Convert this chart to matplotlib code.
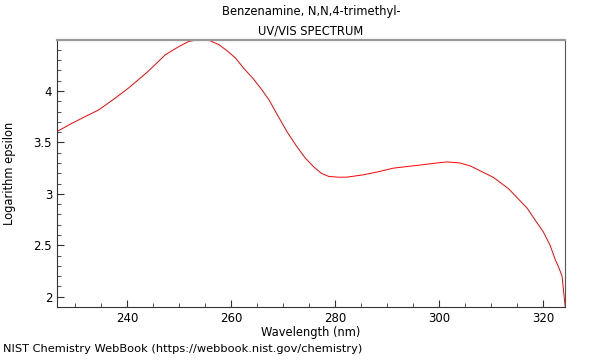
import matplotlib
matplotlib.use("Agg")
import matplotlib.pyplot as plt
from matplotlib.ticker import MultipleLocator

# wavelength (nm) and log epsilon
wavelength = [226.5, 228.8, 231.3, 234.5, 237.7, 240.3, 243.8, 247.3, 249.9, 251.8,
              253.2, 254.4, 255.8, 257.6, 259.2, 260.8, 262.4, 264.2, 265.9, 267.3,
              268.5, 270.7, 272.6, 274.2, 275.8, 277.3, 278.7, 280.5, 282.2, 285.4,
              288.3, 291.2, 296.3, 299.5, 301.5, 304, 306, 308, 310.4, 313.3,
              315.2, 316.9, 318.5, 320, 321.3, 322.3, 323.0, 323.6, 324.2]
log_eps = [3.605, 3.67, 3.735, 3.815, 3.93, 4.03, 4.18, 4.35, 4.43, 4.48,
           4.493, 4.495, 4.49, 4.45, 4.39, 4.32, 4.22, 4.12, 4.01, 3.91,
           3.80, 3.605, 3.46, 3.35, 3.265, 3.20, 3.17, 3.162, 3.162, 3.185,
           3.215, 3.25, 3.28, 3.30, 3.31, 3.30, 3.27, 3.22, 3.16, 3.05,
           2.95, 2.86, 2.74, 2.63, 2.50, 2.36, 2.28, 2.20, 1.90]

fig = plt.figure(figsize=(6, 3.6), dpi=100)
ax = fig.add_axes([0.095, 0.147, 0.847, 0.742])

ax.plot(wavelength, log_eps, color="#ff0000", lw=0.7)

ax.set_xlim(226.5, 324.2)
ax.set_ylim(1.9, 4.495)
ax.xaxis.set_major_locator(MultipleLocator(20))
ax.xaxis.set_minor_locator(MultipleLocator(5))
ax.yaxis.set_major_locator(MultipleLocator(0.5))
ax.yaxis.set_minor_locator(MultipleLocator(0.1))
ax.yaxis.set_major_formatter(plt.FuncFormatter(lambda v, p: f"{v:g}"))
ax.tick_params(which="both", direction="in", labelsize=8.5, color="#333333")
ax.tick_params(which="major", length=5)
ax.tick_params(which="minor", length=3)

for s in ["left", "bottom"]:
    ax.spines[s].set_color("#333333")
ax.spines["right"].set_color("#555555")
ax.spines["top"].set_color("#999999")
ax.spines["top"].set_linewidth(1.6)

ax.set_xlabel("Wavelength (nm)", fontsize=8.3, labelpad=1)
ax.set_ylabel("Logarithm epsilon", fontsize=8.3)
ax.yaxis.set_label_coords(-0.08, 0.5)
ax.set_title("Benzenamine, N,N,4-trimethyl-\nUV/VIS SPECTRUM", fontsize=8.3,
             linespacing=1.6, pad=4)
fig.text(0.005, 0.022, "NIST Chemistry WebBook (https://webbook.nist.gov/chemistry)",
         fontsize=8.2)

fig.savefig("out.png", dpi=100)
